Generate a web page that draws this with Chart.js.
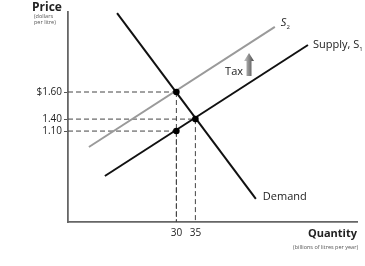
<!DOCTYPE html>
<html>
<head>
<meta charset="utf-8">
<script src="https://cdn.jsdelivr.net/npm/chart.js@4.4.1/dist/chart.umd.min.js"></script>
<style>
  html, body { margin: 0; padding: 0; background: #fff; }
  #wrap { width: 365px; height: 266px; position: relative; }
</style>
</head>
<body>
<div id="wrap"><canvas id="c"></canvas></div>
<script>
/* -------- Daten (schematisch, y = relative Höhe 0..100) -------- */
const quantityTicks = [30, 35];
const priceLabels = ["$1.60", "1.40", "1.10"];
const priceLevels = [61.9, 49.0, 43.3];

const demand = [{ x: 14.4, y: 99.5 }, { x: 50.9, y: 11.0 }];
const supply1 = [{ x: 11.2, y: 21.9 }, { x: 64.6, y: 84.3 }];
const supply2 = [{ x: 7.0, y: 35.7 }, { x: 55.9, y: 92.9 }];

// Gleichgewichte: mit Steuer (30, $1.60), ohne (35, 1.40), Verkäuferpreis (30, 1.10)
const eqQuantity = [30, 35, 30];
const eqPrice = [61.9, 49.0, 43.3];

const taxArrow = { x: 49.1, from: 69.5, to: 80.5 };

const X_MIN = 1.5, X_MAX = 77.5;
const FONT = "'Open Sans', 'DejaVu Sans', sans-serif";

/* -------- Plugin: gestrichelte Linien, Beschriftungen, Pfeil -------- */
const annotations = {
  id: "annotations",
  beforeDatasetsDraw(chart) {
    const { ctx, scales: { x, y } } = chart;
    ctx.save();
    ctx.strokeStyle = "#444";
    ctx.lineWidth = 1;
    ctx.setLineDash([5, 3]);
    eqQuantity.forEach((q, i) => {
      const px = x.getPixelForValue(q), py = y.getPixelForValue(eqPrice[i]);
      ctx.beginPath();
      ctx.moveTo(x.left, py); ctx.lineTo(px, py);
      ctx.moveTo(px, py); ctx.lineTo(px, y.bottom);
      ctx.stroke();
    });
    ctx.restore();
  },
  afterDraw(chart) {
    const { ctx, scales: { x, y } } = chart;
    ctx.save();

    // Achsentitel
    ctx.fillStyle = "#222";
    ctx.textBaseline = "alphabetic";
    ctx.textAlign = "left";
    ctx.font = "bold 12px " + FONT;
    ctx.fillText("Price", 32, 11);
    ctx.font = "5.5px " + FONT;
    ctx.fillStyle = "#555";
    ctx.fillText("(dollars", 34, 18);
    ctx.fillText("per litre)", 34, 24);

    ctx.textAlign = "right";
    ctx.font = "bold 11px " + FONT;
    ctx.fillStyle = "#222";
    ctx.fillText("Quantity", 357, 237);
    ctx.font = "5.5px " + FONT;
    ctx.fillStyle = "#555";
    ctx.fillText("(billions of litres per year)", 358, 249);

    // Kurven-Labels
    ctx.textAlign = "left";
    ctx.fillStyle = "#222";
    ctx.font = "11px " + FONT;
    const d1 = demand[1];
    ctx.fillText("Demand", x.getPixelForValue(d1.x) + 7, y.getPixelForValue(d1.y) + 1);

    const s1 = supply1[1];
    const s1x = x.getPixelForValue(s1.x) + 5, s1y = y.getPixelForValue(s1.y) + 3;
    ctx.fillText("Supply, S", s1x, s1y);
    let w = ctx.measureText("Supply, S").width;
    ctx.font = "6px " + FONT;
    ctx.fillText("1", s1x + w, s1y + 3);

    const s2 = supply2[1];
    const s2x = x.getPixelForValue(s2.x) + 6, s2y = y.getPixelForValue(s2.y) - 1;
    ctx.font = "italic 11px " + FONT;
    ctx.fillText("S", s2x, s2y);
    w = ctx.measureText("S").width;
    ctx.font = "6px " + FONT;
    ctx.fillText("2", s2x + w, s2y + 3);

    // Steuer-Pfeil
    const ax = x.getPixelForValue(taxArrow.x);
    const ab = y.getPixelForValue(taxArrow.from), at = y.getPixelForValue(taxArrow.to);
    const g = ctx.createLinearGradient(ax - 5, 0, ax + 5, 0);
    g.addColorStop(0, "#c8c8c8");
    g.addColorStop(1, "#4a4a4a");
    ctx.fillStyle = g;
    ctx.beginPath();
    ctx.moveTo(ax, at);
    ctx.lineTo(ax + 5, at + 8);
    ctx.lineTo(ax + 2.5, at + 8);
    ctx.lineTo(ax + 2.5, ab);
    ctx.lineTo(ax - 2.5, ab);
    ctx.lineTo(ax - 2.5, at + 8);
    ctx.lineTo(ax - 5, at + 8);
    ctx.closePath();
    ctx.fill();

    ctx.fillStyle = "#222";
    ctx.font = "11px " + FONT;
    ctx.textAlign = "right";
    ctx.fillText("Tax", ax - 6, ab - 1);

    ctx.restore();
  }
};

/* -------- Chart -------- */
const lineStyle = (color) => ({
  type: "line",
  order: 1,
  borderColor: color,
  borderWidth: 2,
  pointRadius: 0,
  fill: false,
  tension: 0
});

new Chart(document.getElementById("c").getContext("2d"), {
  data: {
    datasets: [
      { ...lineStyle("#9a9a9a"), label: "S2", data: supply2 },
      { ...lineStyle("#111"), label: "Supply, S1", data: supply1 },
      { ...lineStyle("#111"), label: "Demand", data: demand },
      {
        type: "scatter",
        order: 0,
        label: "Gleichgewicht",
        data: eqQuantity.map((q, i) => ({ x: q, y: eqPrice[i] })),
        pointRadius: 3.3,
        pointBackgroundColor: "#000",
        pointBorderWidth: 0
      }
    ]
  },
  options: {
    responsive: true,
    maintainAspectRatio: false,
    animation: false,
    layout: { padding: { left: 0, top: 12, right: 8, bottom: 0 } },
    plugins: { legend: { display: false }, tooltip: { enabled: false } },
    scales: {
      x: {
        type: "linear",
        min: X_MIN,
        max: X_MAX,
        grid: { drawOnChartArea: false, drawTicks: false },
        border: { color: "#666", width: 1.8 },
        afterBuildTicks: (s) => { s.ticks = quantityTicks.map(v => ({ value: v })); },
        afterFit: (s) => { s.height = 44; },
        ticks: { color: "#222", font: { size: 10, family: FONT }, padding: 5, maxRotation: 0, autoSkip: false }
      },
      y: {
        type: "linear",
        min: 0,
        max: 100,
        grid: { drawOnChartArea: false, drawTicks: true, tickLength: 4, color: "#555" },
        border: { color: "#666", width: 1.8 },
        afterBuildTicks: (s) => { s.ticks = priceLevels.map(v => ({ value: v })); },
        afterFit: (s) => { s.width = 68; },
        ticks: {
          color: "#222",
          font: { size: 10, family: FONT },
          padding: 2,
          autoSkip: false,
          callback: (v, i) => priceLabels[i]
        }
      }
    }
  },
  plugins: [annotations]
});
</script>
</body>
</html>
